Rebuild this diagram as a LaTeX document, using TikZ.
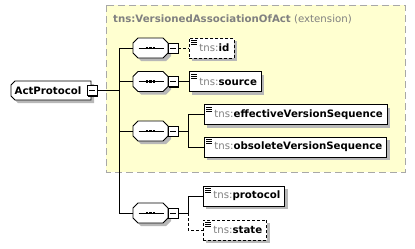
\documentclass[tikz,border=0pt]{standalone}
\usepackage{fontspec}
\setmainfont{DejaVu Sans}
\usetikzlibrary{shadows}
\definecolor{Extension}{HTML}{FFFFD0}
\definecolor{Frame}{HTML}{A8A8A8}
\definecolor{Prefix}{HTML}{808080}
\definecolor{Shade}{HTML}{B8B8B8}
\newcommand\tns{{\mdseries\color{Prefix}tns:}}

\begin{document}
\begin{tikzpicture}[x=1pt,y=-1pt,
  element/.style={draw,fill=white,line width=0.8pt,anchor=west,minimum height=20pt,inner xsep=4.5pt,inner ysep=0pt,
    font=\bfseries\fontsize{10.2}{12}\selectfont,execute at begin node={\hspace*{5.5pt}},
    general shadow={fill=Shade,shadow xshift=3pt,shadow yshift=-3pt},
    path picture={\foreach \k in {2.5,4.5,6.5}
      \draw[solid,black,line width=0.6pt] ([xshift=2pt,yshift=-\k pt]path picture bounding box.north west) -- ++(5.5,0);}},
  optional/.style={element,dash pattern=on 3pt off 2pt},
  root/.style={minimum width=80pt,minimum height=19pt,inner sep=0pt,
    font=\bfseries\fontsize{10.2}{12}\selectfont},
  sequence/.style={minimum width=35pt,minimum height=20pt,inner sep=0pt,
    path picture={\draw[black,line width=0.7pt] ([xshift=-12pt]path picture bounding box.center) -- ([xshift=13pt]path picture bounding box.center);
      \foreach \d in {-3.2,0,3.2} \fill[black] ([xshift=\d pt]path picture bounding box.center) +(-1.1,-1.1) rectangle +(1.1,1.1);}},
  collapse/.style={draw,fill=white,line width=0.8pt,rectangle,minimum size=10pt,inner sep=0pt,
    general shadow={fill=black,shadow xshift=1pt,shadow yshift=-1pt},
    path picture={\draw[black,line width=0.8pt] ([xshift=-3pt]path picture bounding box.center) -- ([xshift=3pt]path picture bounding box.center);}},
  link/.style={line width=0.8pt}
]
\useasboundingbox (0,0) rectangle (415,249);
% extension base type
\draw[Frame,fill=Extension,dash pattern=on 7pt off 4pt,line width=0.8pt] (106,5) rectangle (405,172);
\node[anchor=west,text=Prefix,font=\fontsize{10.2}{12}\selectfont,inner sep=0pt] (base) at (113,19)
  {\textbf{tns:VersionedAssociationOfAct} (extension)};

% root element, left corners cut
\fill[Shade] (18,84) -- (94,84) -- (94,103) -- (18,103) -- (14,99) -- (14,88) -- cycle;
\draw[fill=white,line width=0.8pt] (15,81) -- (91,81) -- (91,100) -- (15,100) -- (11,96) -- (11,85) -- cycle;
\node[root] (act) at (48,90.5) {ActProtocol};
\node[collapse] (act-c) at (92,90.5) {};
\coordinate (trunk) at (119,90.5);

% sequence compositors
\foreach \y [count=\i] in {48,81.5,131,213} {
  \fill[Shade,shift={(153.5,\y+3)}] (-12.5,-10) -- (12.5,-10) -- (17.5,-5) -- (17.5,5) -- (12.5,10) -- (-12.5,10) -- (-17.5,5) -- (-17.5,-5) -- cycle;
  \draw[fill=white,line width=0.8pt,shift={(150.5,\y)}] (-12.5,-10) -- (12.5,-10) -- (17.5,-5) -- (17.5,5) -- (12.5,10) -- (-12.5,10) -- (-17.5,5) -- (-17.5,-5) -- cycle;
  \node[sequence] (seq\i) at (150.5,\y) {};
  \node[collapse] (seq\i-c) at (173,\y) {};
}

\node[optional] (id) at (189,48) {\tns id};
\node[element] (source) at (189,81.5) {\tns source};

\coordinate (fork3) at (188,131);
\node[element] (effective) at (204,114.5) {\tns effectiveVersionSequence};
\node[element] (obsolete) at (204,147) {\tns obsoleteVersionSequence};

\coordinate (fork4) at (188,213);
\node[element] (protocol) at (203,196) {\tns protocol};
\node[optional] (state) at (203,230) {\tns state};

% connectors
\draw[link] (act-c.east) -- (trunk);
\foreach \s in {seq1,seq2,seq3,seq4}
  \draw[link] (trunk) |- (\s.west);
\draw[link,dash pattern=on 3pt off 2pt] (seq1-c.east) -- (id.west);
\draw[link] (seq2-c.east) -- (source.west);
\draw[link] (seq3-c.east) -- (fork3) |- (effective.west);
\draw[link] (fork3) |- (obsolete.west);
\draw[link] (seq4-c.east) -- (fork4) |- (protocol.west);
\draw[link,dash pattern=on 3pt off 2pt] (fork4) |- (state.west);
\end{tikzpicture}
\end{document}
